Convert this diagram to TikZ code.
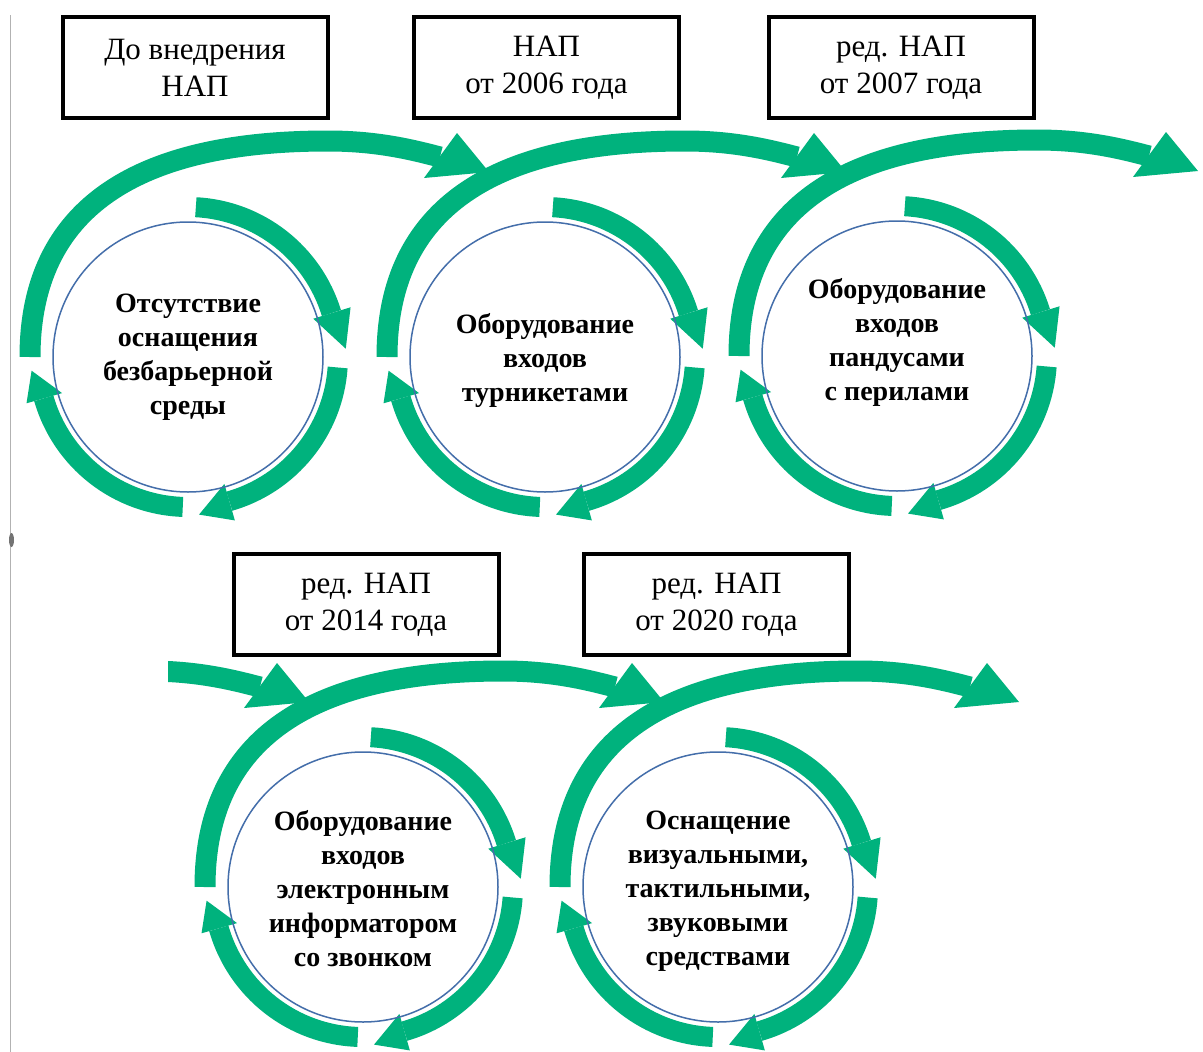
\documentclass[tikz,border=0pt]{standalone}
\usepackage{fontspec}
\setmainfont{Liberation Serif}
\begin{document}
\begin{tikzpicture}[x=1pt,y=1pt]
\definecolor{grn}{RGB}{0,178,125}
\definecolor{cblue}{RGB}{68,110,170}
\tikzset{
 band/.style={draw=grn, line width=20pt, line cap=butt},
 bigband/.style={draw=grn, line width=21pt, line cap=butt},
 ring/.pic={
   \draw[band] (87:150) arc[start angle=87,end angle=17,radius=150];
   \fill[grn] (17:131) -- (17:170) -- (3:158) -- cycle;
   \draw[band] (-4:150) arc[start angle=-4,end angle=-74,radius=150];
   \fill[grn] (-74:132) -- (-74:170) -- (-86:158) -- cycle;
   \draw[band] (-92:150) arc[start angle=-92,end angle=-164,radius=150];
   \fill[grn] (-164:131) -- (-164:168) -- (-175:157) -- cycle;
 },
 bigarc/.pic={
   \draw[bigband] (-158,0) .. controls (-158,150) and (-50,216) .. (140,216)
       .. controls (190,216) and (225,207) .. (252,200);
   \fill[grn] (236,179) -- (269,224) -- (301,185) -- cycle;
 },
 datebox/.style={draw=black, line width=4pt, minimum width=265pt, minimum height=101pt,
   inner sep=0pt, align=center, font=\fontsize{31}{37}\selectfont},
 stage/.style={circle, draw=cblue, line width=1.5pt, minimum size=270pt, inner sep=0pt},
 stagetext/.style={align=center, font=\fontsize{28}{34}\selectfont\bfseries},
}
\useasboundingbox (0,0) rectangle (1203,-1052);
\fill[white] (0,0) rectangle (1203,-1052);
\begin{scope}
\clip (0,0) rectangle (1203,-1052);
% left border artefact
\draw[black!30, line width=1.3pt] (10.5,-15) -- (10.5,-1052);
\fill[black!55] (11.5,-540) ellipse[x radius=2.5, y radius=7];
% green cycles
\pic at (188,-357) {ring};
\pic at (545,-357) {ring};
\pic at (897,-356) {ring};
\pic at (363,-887) {ring};
\pic at (718,-887) {ring};
\pic at (188,-357) {bigarc};
\pic at (545,-357) {bigarc};
\pic at (897,-356) {bigarc};
\pic at (363,-887) {bigarc};
\pic at (718,-887) {bigarc};
\begin{scope}
\clip (168,-600) rectangle (400,-760);
\pic at (8,-887) {bigarc};
\end{scope}
% circles
\node[stage] (c1) at (188,-357) {};
\node[stage] (c2) at (545,-357) {};
\node[stage] (c3) at (897,-356) {};
\node[stage] (c4) at (363,-887) {};
\node[stage] (c5) at (718,-887) {};
\node[stagetext] (t1) at (188,-357) {Отсутствие\\оснащения\\безбарьерной\\среды};
\node[stagetext] (t2) at (545,-360) {Оборудование\\входов\\турникетами};
\node[stagetext] (t3) at (897,-342) {Оборудование\\входов\\пандусами\\с перилами};
\node[stagetext] (t4) at (363,-889) {Оборудование\\входов\\электронным\\информатором\\со звонком};
\node[stagetext] (t5) at (718,-891) {Оснащение\\визуальными,\\тактильными,\\звуковыми\\средствами};
% date boxes
\node[datebox] (b1) at (195,-67.5) {До внедрения\\НАП};
\node[datebox] (b2) at (546.5,-67.5) {НАП\\от 2006 года};
\node[datebox] (b3) at (901,-67.5) {ред. НАП\\от 2007 года};
\node[datebox] (b4) at (366,-604.5) {ред. НАП\\от 2014 года};
\node[datebox] (b5) at (716.5,-604.5) {ред. НАП\\от 2020 года};
\end{scope}
\end{tikzpicture}
\end{document}
